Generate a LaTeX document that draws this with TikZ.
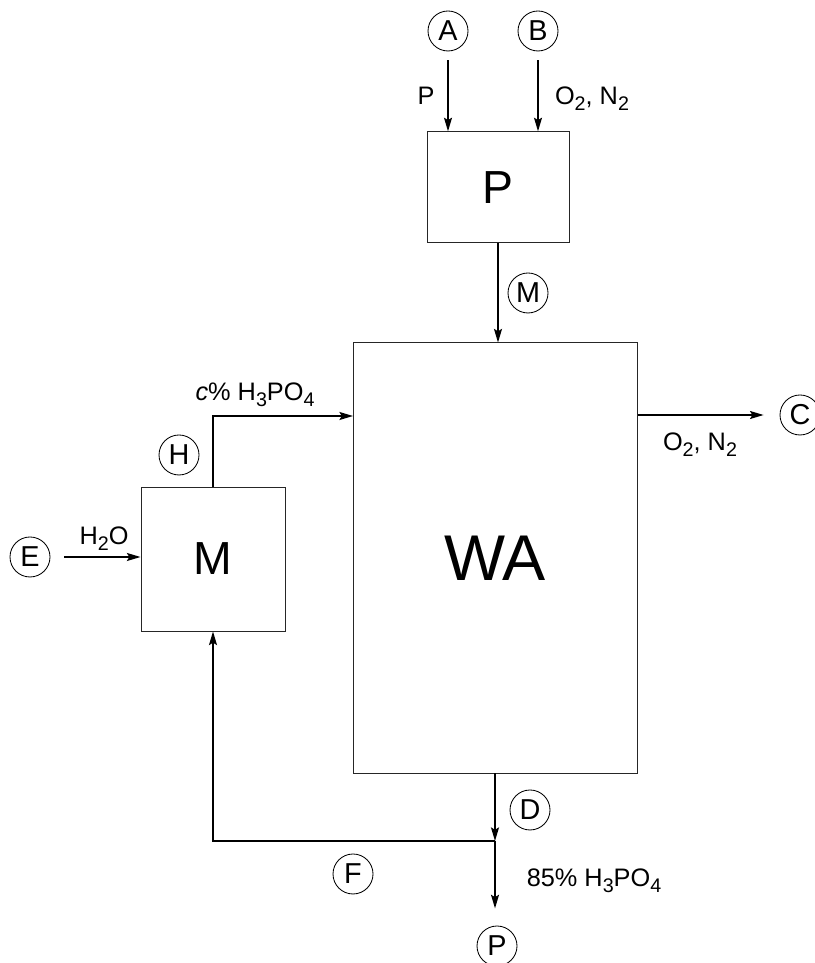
\documentclass[tikz,border=0pt]{standalone}
\usepackage{fontspec}
\setmainfont{Liberation Sans}
\usepackage{tikz}
\usetikzlibrary{arrows.meta, positioning, calc}
\newcommand{\chemsub}[1]{\raisebox{-4pt}{\fontsize{14}{16}\selectfont #1}}

\begin{document}
\begin{tikzpicture}[
  unit/.style={draw=black!85, line width=0.7pt, inner sep=0pt},
  stream/.style={draw, circle, line width=0.6pt, minimum size=1.0cm,
    inner sep=0pt, font=\fontsize{20.5}{24}\selectfont},
  lbl/.style={font=\fontsize{18}{21}\selectfont, inner sep=0pt, anchor=base},
  flow/.style={line width=1.1pt,
    -{Stealth[length=0.34cm, width=0.2cm, inset=0.06cm]}}
]
  \useasboundingbox (0,0) rectangle (20.35,24.075);

  % units
  \node[unit, minimum width=3.55cm, minimum height=2.78cm,
    font=\fontsize{33}{38}\selectfont] (burn) at (12.45,19.39) {P};
  \node[unit, minimum width=7.1cm, minimum height=10.75cm,
    font=\fontsize{46}{54}\selectfont] (wa) at (12.375,10.125) {WA};
  \node[unit, minimum width=3.6cm, minimum height=3.6cm,
    font=\fontsize{33}{38}\selectfont] (mix) at (5.325,10.1) {M};

  % stream markers
  \node[stream] (sA) at (11.2,23.3) {A};
  \node[stream] (sB) at (13.45,23.3) {B};
  \node[stream] (sM) at (13.2,16.75) {M};
  \node[stream] (sC) at (20.0,13.7) {C};
  \node[stream] (sH) at (4.475,12.7) {H};
  \node[stream] (sE) at (0.75,10.15) {E};
  \node[stream] (sD) at (13.25,3.825) {D};
  \node[stream] (sF) at (8.825,2.225) {F};
  \node[stream] (sP) at (12.425,0.425) {P};

  % feeds to the burner
  \draw[flow, shorten <=0.22cm] (sA) -- (sA |- burn.north);
  \draw[flow, shorten <=0.22cm] (sB) -- (sB |- burn.north);
  \node[lbl] (lP) at (10.65,21.45) {P};
  \node[lbl] (lON) at (14.8,21.45) {O\chemsub{2}, N\chemsub{2}};

  % burner to absorber
  \draw[flow] (burn.south) -- (burn.south |- wa.north);

  % off-gas
  \draw[flow, shorten >=0.4cm] (sC -| wa.east) -- (sC);
  \node[lbl] (lgas) at (17.5,12.8) {O\chemsub{2}, N\chemsub{2}};

  % water and dilute acid
  \draw[flow, shorten <=0.35cm] (sE) -- (sE -| mix.west);
  \node[lbl] (lw) at (2.6,10.45) {H\chemsub{2}O};
  \coordinate (feed) at (8.825,13.675);
  \draw[flow] (mix.north) |- (feed);
  \node[lbl] (lc) at (6.375,14.05) {\textit{c}\% H\chemsub{3}PO\chemsub{4}};

  % product and recycle
  \coordinate (jn) at (12.375,3.05);
  \draw[flow] (wa.south) -- (jn);
  \draw[flow, shorten >=0.43cm] (jn) -- (jn |- sP.north);
  \draw[flow] (jn) -| (mix.south);
  \node[lbl] (lprod) at (14.85,1.9) {85\% H\chemsub{3}PO\chemsub{4}};
\end{tikzpicture}
\end{document}
